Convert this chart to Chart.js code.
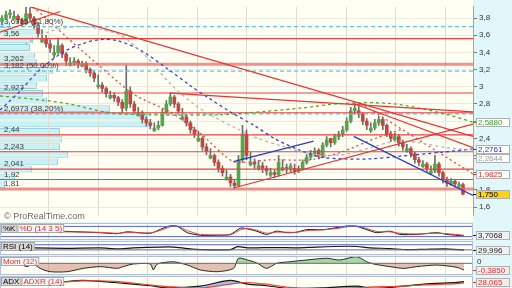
<!DOCTYPE html>
<html>
<head>
<meta charset="utf-8">
<script src="https://cdn.jsdelivr.net/npm/chart.js@4.4.0/dist/chart.umd.min.js"></script>
<style>
body{margin:0;background:#e2f7fa;}
#wrap{position:relative;width:512px;height:288px;overflow:hidden;background:#e2f7fa;}
canvas{position:absolute;left:0;}
</style>
</head>
<body>
<div id="wrap">
<canvas id="profile" width="512" height="222" style="top:0"></canvas>
<canvas id="price" width="512" height="222" style="top:0"></canvas>
<canvas id="stoch" width="512" height="17" style="top:223px"></canvas>
<canvas id="rsi" width="512" height="14" style="top:241px"></canvas>
<canvas id="mom" width="512" height="19" style="top:256px"></canvas>
<canvas id="adx" width="512" height="13" style="top:276px"></canvas>
</div>
<script>
const FONT = '"Liberation Sans", Arial, sans-serif';

// daily candles, oldest first
const opens = [3.76,3.80,3.84,3.79,3.82,3.78,3.74,3.85,3.80,3.72,
3.52,3.56,3.50,3.37,3.40,3.48,3.38,3.25,3.28,3.30,
3.24,3.27,3.20,3.16,3.00,3.02,2.98,2.87,2.90,2.87,
2.82,2.75,2.95,2.80,2.66,2.70,2.62,2.58,2.49,2.52,
2.55,2.70,2.80,2.88,2.80,2.62,2.65,2.58,2.50,2.37,
2.40,2.30,2.17,2.20,2.12,2.05,1.92,1.95,1.88,1.85,
2.15,2.45,2.09,2.12,2.05,2.08,2.05,1.97,2.00,1.98,
2.03,2.06,2.05,2.05,2.02,2.05,2.12,2.18,2.22,2.26,
2.20,2.32,2.40,2.35,2.42,2.45,2.50,2.60,2.72,2.72,
2.68,2.60,2.49,2.52,2.58,2.62,2.55,2.45,2.38,2.42,
2.35,2.25,2.28,2.22,2.15,2.07,2.10,1.99,2.02,2.10,
2.00,1.92,1.86,1.90,1.84,1.86];
const highs = [3.83,3.88,3.90,3.88,3.84,3.80,3.93,3.92,3.82,3.75,
3.66,3.60,3.55,3.48,3.57,3.50,3.40,3.34,3.34,3.32,
3.30,3.29,3.22,3.19,3.14,3.05,3.00,2.95,2.93,2.89,
2.85,3.25,3.00,2.83,2.76,2.72,2.65,2.62,2.58,2.60,
2.74,2.84,2.93,2.90,2.82,2.75,2.68,2.60,2.53,2.48,
2.42,2.34,2.28,2.22,2.15,2.08,2.03,1.98,1.92,2.20,
2.55,2.50,2.24,2.16,2.14,2.12,2.08,2.05,2.03,2.20,
2.15,2.10,2.11,2.10,2.08,2.15,2.21,2.26,2.29,2.28,
2.35,2.42,2.40,2.45,2.48,2.54,2.64,2.76,2.80,2.78,
2.70,2.63,2.58,2.62,2.66,2.64,2.57,2.48,2.46,2.44,
2.38,2.33,2.30,2.24,2.18,2.14,2.12,2.08,2.20,2.12,
2.02,1.95,1.93,1.92,1.89,1.88];
const lows = [3.72,3.78,3.80,3.79,3.74,3.70,3.72,3.77,3.68,3.58,
3.52,3.46,3.40,3.34,3.38,3.34,3.25,3.24,3.25,3.22,
3.23,3.16,3.12,3.06,2.98,2.94,2.88,2.86,2.83,2.78,
2.70,2.72,2.76,2.68,2.66,2.58,2.54,2.51,2.48,2.50,
2.54,2.68,2.78,2.76,2.68,2.61,2.54,2.46,2.41,2.36,
2.26,2.21,2.16,2.08,2.01,1.96,1.91,1.84,1.82,1.84,
2.12,2.15,2.08,2.05,2.03,2.00,1.97,1.95,1.94,1.96,
2.02,2.00,2.01,1.98,2.00,2.03,2.10,2.15,2.19,2.16,
2.18,2.30,2.30,2.33,2.38,2.42,2.48,2.58,2.68,2.64,
2.56,2.50,2.47,2.50,2.55,2.50,2.42,2.36,2.37,2.31,
2.26,2.24,2.18,2.11,2.08,2.06,2.01,1.98,2.00,1.96,
1.88,1.84,1.85,1.83,1.82,1.74];
const closes = [3.80,3.84,3.86,3.82,3.78,3.74,3.85,3.80,3.72,3.62,
3.56,3.50,3.45,3.40,3.48,3.38,3.30,3.28,3.30,3.26,
3.27,3.20,3.16,3.10,3.02,2.98,2.92,2.90,2.87,2.82,
2.75,2.95,2.80,2.72,2.70,2.62,2.58,2.55,2.52,2.55,
2.70,2.80,2.88,2.80,2.72,2.65,2.58,2.50,2.45,2.40,
2.30,2.25,2.20,2.12,2.05,2.00,1.95,1.88,1.85,2.15,
2.45,2.20,2.12,2.10,2.08,2.05,2.02,2.00,1.98,2.12,
2.06,2.05,2.08,2.02,2.05,2.12,2.18,2.22,2.25,2.20,
2.32,2.38,2.35,2.42,2.45,2.50,2.60,2.72,2.75,2.68,
2.60,2.55,2.52,2.58,2.62,2.55,2.45,2.40,2.42,2.35,
2.30,2.28,2.22,2.15,2.12,2.10,2.05,2.02,2.10,2.00,
1.92,1.88,1.90,1.87,1.86,1.75];

const xMin = -0.5, xMax = 117.5;
const priceMin = 1.505, priceMax = 3.931;
const priceTicks = [1.6,1.8,2.0,2.2,2.4,2.6,2.8,3.0,3.2,3.4,3.6,3.8];
const monthTicks = [11.5,24,36.25,48.75,61,73.5,86,98.25,110.75];

// volume by price
const profilePrice = [3.85,3.75,3.65,3.55,3.45,3.35,3.25,3.15,3.05,2.95,2.85,2.75,2.65,2.55,2.45,2.35,2.25,2.15,2.05,1.95,1.85,1.75];
const profileVol = [10,43,33,30,35,37,53,47,37,43,47,110,147,150,60,62,60,68,58,32,15,5];

// support / resistance levels
const levelValues = [3.56,3.262,2.927,2.697,2.44,2.243,2.041,1.92,1.81];
const levelLabels = ['3,56','3,262','2,927','','2,44','2,243','2,041','1,92','1,81'];
const thickLevels = [3.262,1.81];
const fibValues = [3.70,3.182,2.685];
const fibLabels = ['3,6915 (61,80%)','3,182 (50,00%)','2,6973 (38,20%)'];

// moving averages
const blueX = [-0.5,2,4.5,8.25,12,15.75,20.25,24.5,28.75,34.5,41.25,47,51.5,57,62.75,68.25,74.5,79.5,84.5,92,99.5,109.5,117.5];
const blueY = [2.729,2.838,2.948,3.144,3.297,3.417,3.505,3.549,3.538,3.428,3.210,3.013,2.871,2.707,2.554,2.390,2.258,2.182,2.161,2.161,2.193,2.237,2.276];
const grayX = [5.75,10.75,16.25,20.75,24.5,29.5,35.25,42,48.25,52.75,58.75,63.75,69.5,75.25,80.25,85.75,92,98.25,104.5,110.75,117.5];
const grayY = [3.494,3.625,3.691,3.702,3.669,3.603,3.385,3.035,2.784,2.652,2.510,2.401,2.314,2.237,2.204,2.215,2.292,2.368,2.346,2.292,2.264];
const greenX = [-0.5,7,16.25,27,37,53.75,61.25,74.5,84.5,97,109.5,117.5];
const greenY = [2.893,2.860,2.805,2.696,2.674,2.674,2.696,2.751,2.805,2.805,2.696,2.588];

// trend lines [index, price]
const redTrends = [
  [[7,3.931],[117.5,2.423]],
  [[42,2.926],[117.5,2.707]],
  [[87.75,2.805],[117.5,2.292]],
  [[57.75,1.822],[117.5,2.565]],
  [[-0.5,3.636],[14.5,3.876]]
];
const blueTrends = [
  [[57.75,2.128],[77.75,2.368]],
  [[87.75,2.423],[117.5,1.734]]
];
const redDashA = [[7.75,3.931],[19.5,3.439],[32.75,2.915],[42,2.707],[49.5,2.456],[57.75,2.128],[67,2.150],[77,2.150],[84.5,2.237],[93.25,2.401],[100,2.51]];
const redDashB = [[89.5,2.805],[117.5,1.986]];

// last values on the right scale
const lastValues = [2.588,2.2761,2.2644,1.9825,1.75];
const lastTexts = ['2,5880','2,2761','2,2644','1,9825','1,750'];

// indicators
const stochX = [14.5,24.5,28.75,31.25,37,40.25,42,43.75,46.25,49.5,53.75,57,59.5,61.25,63.5,66,68.5,71,73.5,76,80.25,84.25,86.75,88.5,91,93.5,96.75,99.25,103.5,108.5,111,115.25];
const stochK = [52,43,37,48,40,70,83,80,43,28,28,33,70,65,52,33,52,43,46,61,61,76,83,80,61,43,52,33,33,43,33,24];
const stochD = [48,45,40,44,42,62,78,82,55,33,30,31,60,68,58,40,46,46,45,55,60,70,80,82,68,50,48,40,35,40,37,28];
const rsiX = [8,16,24.5,28.75,32.75,39.5,42.75,46.25,49.5,57,58.75,61.25,63.5,68.5,73.5,78.5,86,88.5,91.75,96.75,101,105.25,110.25,115.25];
const rsiVals = [45,42,45,38,45,52,52,40,32,32,55,46,46,48,46,52,58,56,46,40,32,34,38,30];
const momX = [4.5,6.25,7.75,9.5,12,16.25,20.25,24.5,28.75,30.25,32.75,37,37.75,38.75,42.75,46.25,49.5,53.75,57.75,59,61.25,63.5,66,68.5,71.75,76,81,84.25,88.5,91,92.75,96.75,100.25,103.5,108.5,113.5,115.25];
const momVals = [-0.04,-0.19,-0.04,-0.29,-0.48,-0.48,-0.29,-0.19,-0.29,-0.19,-0.04,-0.04,-0.38,-0.04,0.09,-0.10,-0.38,-0.48,-0.29,0.29,0.19,0.03,-0.29,0.0,0.09,0.19,0.29,0.19,0.38,0.09,-0.04,-0.19,-0.29,-0.19,-0.10,-0.23,-0.385];
const adxX = [13.75,20.25,28,37,41.25,49.5,57,61.25,66,71.75,80.25,88.5,92.75,100,105.25,113.5,115.25];
const adxVals = [26.2,31,26,18,13,17.3,31,22,18,11.4,13,17.3,11.4,17,22,26.2,28.1];
const adxrVals = [26,30,29,20,16,12,22,26,22,14,10.5,13,15,17,20,23,25];

function fmtTick(v) {
  return String(Math.round(v * 10) / 10).replace('.', ',');
}
function pts(xs, ys) {
  return xs.map((x, i) => ({x: x, y: ys[i]}));
}
function xScale() {
  return {
    type: 'linear', min: xMin, max: xMax, offset: false,
    afterBuildTicks: s => { s.ticks = monthTicks.map(v => ({value: v})); },
    ticks: {display: false},
    grid: {color: '#dedcd2', drawTicks: false, offset: false},
    border: {display: false},
    afterFit: s => { s.height = 0; }
  };
}
function fillBg(chart) {
  const {ctx, chartArea: a, width, height} = chart;
  ctx.save();
  ctx.fillStyle = '#e2f7fa';
  ctx.fillRect(0, 0, width, height);
  ctx.fillStyle = '#fffff3';
  ctx.fillRect(a.left, a.top, a.right - a.left, a.bottom - a.top);
  ctx.restore();
}
function drawBox(ctx, x, y, text, color, bg) {
  const w = ctx.measureText(text).width + 4;
  ctx.fillStyle = bg;
  ctx.fillRect(x, y, w, 9);
  ctx.strokeStyle = '#a8a8a8';
  ctx.lineWidth = 1;
  ctx.strokeRect(x + 0.5, y + 0.5, w - 1, 8);
  ctx.fillStyle = color;
  ctx.textBaseline = 'middle';
  ctx.fillText(text, x + 2, y + 5);
  return w;
}

// volume profile (bottom layer)
new Chart(document.getElementById('profile'), {
  type: 'bar',
  data: {
    datasets: [{
      data: pts(profileVol, profilePrice),
      backgroundColor: 'rgba(200,240,246,0.95)',
      borderColor: '#93d2dd',
      borderWidth: 1,
      barPercentage: 0.9,
      categoryPercentage: 1
    }]
  },
  options: {
    indexAxis: 'y',
    responsive: false, animation: false, events: [],
    layout: {padding: {right: 39}},
    plugins: {legend: {display: false}, tooltip: {enabled: false}},
    scales: {
      x: {type: 'linear', min: 0, max: 473, display: false},
      y: {type: 'linear', min: priceMin, max: priceMax, display: false}
    }
  },
  plugins: [{id: 'bg', beforeDraw: fillBg}]
});

// price chart
const upColor = '#4fa84a', downColor = '#c4473d';
const datasets = [];
datasets.push({
  type: 'bar', order: 6, grouped: false, barThickness: 1,
  data: lows.map((l, i) => ({x: i, y: [l, highs[i]]})),
  backgroundColor: '#6d6d6d'
});
datasets.push({
  type: 'bar', order: 5, grouped: false, barThickness: 3,
  data: opens.map((o, i) => ({x: i, y: [o, closes[i]]})),
  backgroundColor: opens.map((o, i) => closes[i] >= o ? upColor : downColor)
});
levelValues.forEach(v => {
  const thick = thickLevels.includes(v);
  datasets.push({
    type: 'line', order: 4, data: [{x: xMin, y: v}, {x: xMax, y: v}],
    borderColor: thick ? 'rgba(240,95,95,0.7)' : '#ea4141',
    borderWidth: thick ? 3 : 1.1, pointRadius: 0
  });
});
fibValues.forEach(v => {
  datasets.push({
    type: 'line', order: 4, data: [{x: xMin, y: v}, {x: xMax, y: v}],
    borderColor: '#5ec3ec', borderWidth: 1.1, borderDash: [4, 3], pointRadius: 0
  });
});
[[greenX, greenY, '#5f9e2e'], [grayX, grayY, '#b5b5ad'], [blueX, blueY, '#3344cc']].forEach(m => {
  datasets.push({
    type: 'line', order: 3, data: pts(m[0], m[1]),
    borderColor: m[2], borderWidth: 1.3, borderDash: [3, 3], pointRadius: 0, tension: 0.3
  });
});
[redDashA, redDashB].forEach(l => {
  datasets.push({
    type: 'line', order: 3, data: l.map(p => ({x: p[0], y: p[1]})),
    borderColor: '#e53b3b', borderWidth: 1.2, borderDash: [2, 3], pointRadius: 0, tension: 0.2
  });
});
redTrends.forEach(l => {
  datasets.push({
    type: 'line', order: 2, data: l.map(p => ({x: p[0], y: p[1]})),
    borderColor: '#e83434', borderWidth: 1.2, pointRadius: 0
  });
});
blueTrends.forEach(l => {
  datasets.push({
    type: 'line', order: 2, data: l.map(p => ({x: p[0], y: p[1]})),
    borderColor: '#2b3bc4', borderWidth: 1.3, pointRadius: 0
  });
});

const lastColors = ['#3c9a25', '#2233bb', '#9a9a9a', '#e03030', '#000'];
const lastBgs = ['#ffffff', '#ffffff', '#ffffff', '#ffffff', '#ffd21a'];

const priceText = {
  id: 'priceText',
  afterDraw(chart) {
    const {ctx, chartArea: a, scales: {y}} = chart;
    ctx.save();
    ctx.font = '8px ' + FONT;
    ctx.textBaseline = 'bottom';
    ctx.fillStyle = '#3a3a3a';
    levelValues.forEach((v, i) => {
      if (levelLabels[i]) ctx.fillText(levelLabels[i], 4, y.getPixelForValue(v) - 1);
    });
    fibValues.forEach((v, i) => ctx.fillText(fibLabels[i], 4, y.getPixelForValue(v) - 1));
    let prev = -99;
    lastValues.forEach((v, i) => {
      let py = y.getPixelForValue(v);
      if (py < prev + 9) py = prev + 9;
      prev = py;
      const bx = a.right + 3;
      ctx.strokeStyle = lastColors[i];
      ctx.lineWidth = 1;
      ctx.beginPath();
      ctx.moveTo(a.right, Math.round(py) + 0.5);
      ctx.lineTo(bx, Math.round(py) + 0.5);
      ctx.stroke();
      ctx.fillStyle = lastBgs[i];
      ctx.fillRect(bx, Math.round(py) - 4, 34, 9);
      ctx.strokeStyle = '#b0b0b0';
      ctx.strokeRect(bx + 0.5, Math.round(py) - 3.5, 33, 8);
      ctx.fillStyle = lastColors[i];
      ctx.textBaseline = 'middle';
      ctx.fillText(lastTexts[i], bx + 2, Math.round(py) + 1);
    });
    ctx.fillStyle = '#6a6a6a';
    ctx.font = '9px ' + FONT;
    ctx.textBaseline = 'alphabetic';
    ctx.fillText('\u00a9 ProRealTime.com', 4, 219);
    ctx.restore();
  }
};

new Chart(document.getElementById('price'), {
  type: 'bar',
  data: {datasets: datasets},
  options: {
    responsive: false, animation: false, events: [],
    plugins: {legend: {display: false}, tooltip: {enabled: false}},
    scales: {
      x: xScale(),
      y: {
        type: 'linear', position: 'right', min: priceMin, max: priceMax,
        afterBuildTicks: s => { s.ticks = priceTicks.map(v => ({value: v})); },
        ticks: {callback: v => fmtTick(v), font: {size: 8, family: FONT}, color: '#333', padding: 2, autoSkip: false},
        grid: {color: '#ebebe2', tickLength: 4, tickColor: '#777'},
        border: {color: '#9aa6aa'},
        afterFit: s => { s.width = 39; }
      }
    }
  },
  plugins: [priceText]
});

// indicator panels
function makePanel(id, sets, yMin, yMax, title, box, zeroLabel) {
  const plugin = {
    id: 'panel_' + id,
    beforeDraw: fillBg,
    afterDraw(chart) {
      const {ctx, chartArea: a, height, scales: {y}} = chart;
      ctx.save();
      ctx.strokeStyle = '#b4bfd2';
      ctx.lineWidth = 1;
      ctx.strokeRect(a.left + 0.5, a.top + 0.5, a.right - a.left - 1, a.bottom - a.top - 1);
      ctx.font = '8px ' + FONT;
      let x = 1;
      title.forEach(t => { x += drawBox(ctx, x, 1, t.text, t.color, t.bg); });
      let py = y.getPixelForValue(box.value);
      py = Math.max(5, Math.min(height - 5, py));
      if (zeroLabel) {
        ctx.fillStyle = '#333';
        ctx.textBaseline = 'middle';
        ctx.fillText('0', a.right + 4, y.getPixelForValue(0) - 2);
      }
      ctx.strokeStyle = box.color;
      ctx.beginPath();
      ctx.moveTo(a.right, Math.round(py) + 0.5);
      ctx.lineTo(a.right + 3, Math.round(py) + 0.5);
      ctx.stroke();
      const bx = a.right + 3;
      ctx.fillStyle = box.bg;
      ctx.fillRect(bx, Math.round(py) - 4, 34, 9);
      ctx.strokeStyle = '#b0b0b0';
      ctx.strokeRect(bx + 0.5, Math.round(py) - 3.5, 33, 8);
      ctx.fillStyle = box.color;
      ctx.textBaseline = 'middle';
      ctx.fillText(box.text, bx + 2, Math.round(py) + 1);
      ctx.restore();
    }
  };
  return new Chart(document.getElementById(id), {
    type: 'line',
    data: {datasets: sets},
    options: {
      responsive: false, animation: false, events: [],
      plugins: {legend: {display: false}, tooltip: {enabled: false}},
      elements: {point: {radius: 0}, line: {borderWidth: 1, tension: 0.25}},
      scales: {
        x: xScale(),
        y: {
          type: 'linear', position: 'right', min: yMin, max: yMax,
          ticks: {display: false}, grid: {display: false}, border: {display: false},
          afterFit: s => { s.width = 39; }
        }
      }
    },
    plugins: [plugin]
  });
}
function hLine(v) {
  return {data: [{x: xMin, y: v}, {x: xMax, y: v}], borderColor: '#5563d6', borderWidth: 1, tension: 0};
}

makePanel('stoch', [
  hLine(80), hLine(20),
  {data: pts(stochX, stochD), borderColor: '#e04848', borderWidth: 1},
  {data: pts(stochX, stochK), borderColor: '#151515', borderWidth: 1}
], 0, 100,
  [{text: '%K', color: '#000', bg: '#d9d9d9'}, {text: '%D (14 3 5)', color: '#e03030', bg: '#f3f3f3'}],
  {text: '3,7068', value: 3.7068, color: '#222', bg: '#f2f2f2'});

makePanel('rsi', [
  hLine(70), hLine(30),
  {data: pts(rsiX, rsiVals), borderColor: '#151515', borderWidth: 1.2}
], -10, 99,
  [{text: 'RSI (14)', color: '#000', bg: '#d9d9d9'}],
  {text: '29,996', value: 29.996, color: '#222', bg: '#f2f2f2'});

makePanel('mom', [
  hLine(0),
  {data: pts(momX, momVals), borderColor: '#2a2a2a', borderWidth: 1,
   fill: {target: {value: 0}, above: 'rgba(110,190,95,0.6)', below: 'rgba(192,115,95,0.45)'}}
], -0.67, 0.42,
  [{text: 'Mom (12)', color: '#e03030', bg: '#f6f6f6'}],
  {text: '-0,3850', value: -0.385, color: '#e03030', bg: '#fbeaea'}, true);

makePanel('adx', [
  {data: pts(adxX, adxrVals), borderColor: '#e04848', borderWidth: 1.2},
  {data: pts(adxX, adxVals), borderColor: '#151515', borderWidth: 1.2,
   fill: {target: 0, above: 'rgba(85,100,210,0.45)', below: 'rgba(230,120,110,0.3)'}}
], 10, 42,
  [{text: 'ADX', color: '#000', bg: '#d9d9d9'}, {text: 'ADXR (14)', color: '#e03030', bg: '#f3f3f3'}],
  {text: '28,065', value: 28.065, color: '#e03030', bg: '#fbeaea'});
</script>
</body>
</html>
